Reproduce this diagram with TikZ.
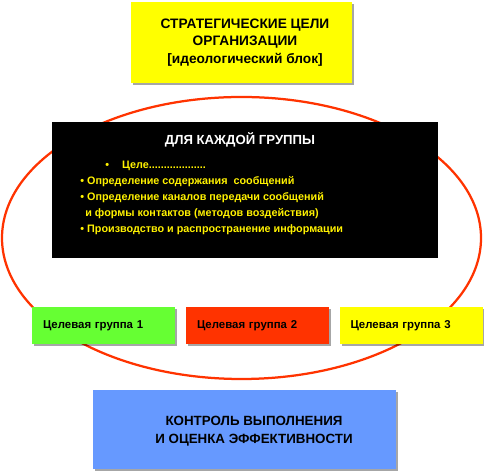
\documentclass[tikz,border=0pt]{standalone}
\usepackage{fontspec}
\setmainfont{Liberation Sans}
\usetikzlibrary{shadows}
\definecolor{goalyellow}{HTML}{FFFF00}
\definecolor{groupgreen}{HTML}{66FF33}
\definecolor{groupred}{HTML}{FF3300}
\definecolor{controlblue}{HTML}{6699FF}
\definecolor{ringred}{HTML}{FF3300}
\begin{document}
\begin{tikzpicture}[line cap=round,line join=round,
  box/.style={draw=none,inner sep=0pt,
    drop shadow={shadow xshift=0.04cm,shadow yshift=-0.04cm,fill=black,opacity=0.35}},
  bigtext/.style={font=\fontsize{7.8pt}{9.8pt}\selectfont\bfseries,align=center,inner sep=0pt},
  grouptext/.style={font=\fontsize{6.5pt}{7.5pt}\selectfont\bfseries},
  itemtext/.style={font=\fontsize{6.15pt}{7.2pt}\selectfont\bfseries,text=yellow,anchor=west,inner sep=0pt},
  groupbox/.style={box,minimum height=0.74cm,text width=2.42cm,inner xsep=0.22cm,align=left,grouptext}]
  \useasboundingbox (0,0) rectangle (9.68,9.42);
  % ring round the groups
  \draw[ringred,line width=0.045cm] (4.83,4.66) ellipse[x radius=4.79,y radius=2.82];
  % goals
  \node[box,fill=goalyellow,minimum width=4.42cm,minimum height=1.62cm] (goals) at (4.83,8.57) {};
  \node[bigtext] (goalstext) at (4.90,8.57) {СТРАТЕГИЧЕСКИЕ ЦЕЛИ\\ОРГАНИЗАЦИИ\\{}[идеологический блок]};
  % for each group
  \node[fill=black,minimum width=7.72cm,minimum height=2.72cm,inner sep=0pt] (each) at (4.90,5.62) {};
  \node[font=\fontsize{7.5pt}{8pt}\selectfont\bfseries,text=white,inner sep=0pt] (eachtitle) at (4.80,6.62) {ДЛЯ КАЖДОЙ ГРУППЫ};
  \node[itemtext] (item1) at (2.10,6.10) {•\hspace{1.2em}Целе...................};
  \node[itemtext] (item2) at (1.60,5.78) {• Определение содержания~~сообщений};
  \node[itemtext] (item3) at (1.60,5.46) {• Определение каналов передачи сообщений};
  \node[itemtext] (item4) at (1.70,5.14) {и формы контактов (методов воздействия)};
  \node[itemtext] (item5) at (1.60,4.82) {• Производство и распространение информации};
  % target groups
  \node[groupbox,fill=groupgreen] (group1) at (2.07,2.91) {Целевая группа 1};
  \node[groupbox,fill=groupred] (group2) at (5.15,2.91) {Целевая группа 2};
  \node[groupbox,fill=goalyellow] (group3) at (8.22,2.91) {Целевая группа 3};
  % control
  \node[box,fill=controlblue,minimum width=6.06cm,minimum height=1.58cm] (control) at (4.89,0.83) {};
  \node[bigtext,font=\fontsize{7.6pt}{10.2pt}\selectfont\bfseries] (controltext) at (5.08,0.80) {КОНТРОЛЬ ВЫПОЛНЕНИЯ\\И ОЦЕНКА ЭФФЕКТИВНОСТИ};
\end{tikzpicture}
\end{document}
